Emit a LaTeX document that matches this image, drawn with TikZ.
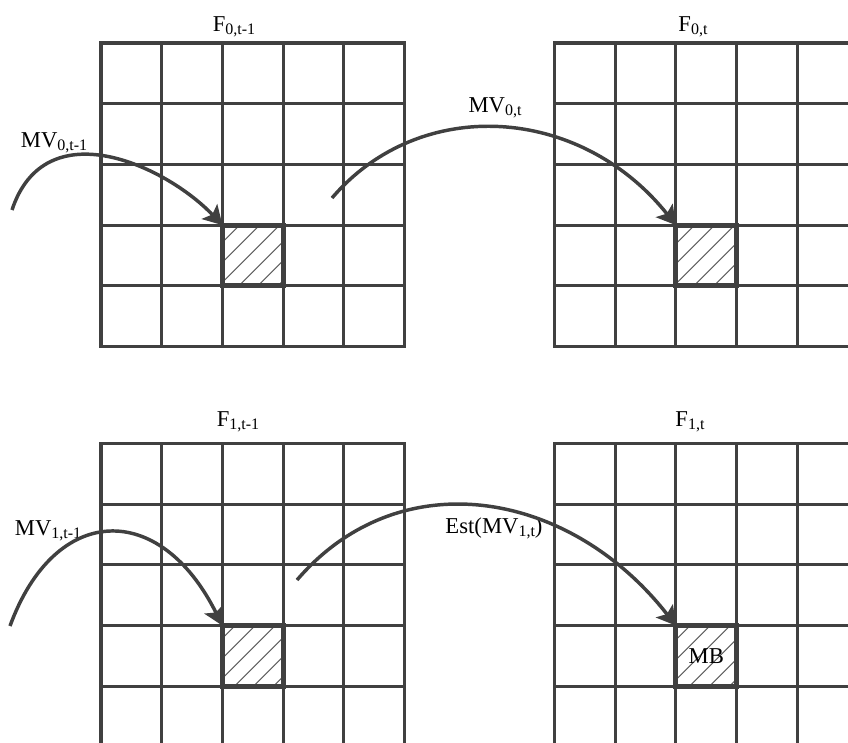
\documentclass[tikz,border=0pt]{standalone}
\usepackage{fontspec}
\setmainfont{Liberation Serif}
\usetikzlibrary{arrows.meta,patterns.meta}
\definecolor{inkgray}{HTML}{404040}
\newcommand{\mvSub}[1]{\raisebox{-2.6pt}{\fontsize{12}{12}\selectfont #1}}
\newcommand{\mvGrid}[2]{%
    \foreach \k in {0,...,5} {
        \draw[gridline] (#1+\k*60.7,#2) -- (#1+\k*60.7,#2+303.5);
        \draw[gridline] (#1,#2+\k*60.7) -- (#1+303.5,#2+\k*60.7);
    }
}
\newcommand{\mvBlock}[4]{%
    \node[hatchbox] (#3) at (#1+30.35,#2+30.35) {#4};
}

\begin{document}
\begin{tikzpicture}[x=0.75pt, y=-0.75pt,
    gridline/.style={inkgray, line width=2.3pt, line cap=rect},
    hatchbox/.style={draw=inkgray, line width=3.8pt, minimum size=45.5pt,
        inner sep=0pt, outer sep=0pt,
        pattern={Lines[angle=45,distance=10.5pt,line width=0.9pt]},
        pattern color=inkgray!80, font=\fontsize{17}{20}\selectfont},
    frametext/.style={anchor=base, inner sep=0pt, font=\fontsize{17}{20}\selectfont},
    mvarrow/.style={inkgray, line width=2.6pt,
        -{Stealth[length=14pt,width=16pt,inset=3pt]}}]
    \useasboundingbox (0,0) rectangle (848,742);
    \clip (0,0) rectangle (848,742);

    \mvGrid{101}{43}
    \mvGrid{554.5}{43}
    \mvGrid{101}{443.5}
    \mvGrid{554.5}{443.5}

    \mvBlock{222.4}{225.1}{blkA}{}
    \mvBlock{675.9}{225.1}{blkB}{}
    \mvBlock{222.4}{625.6}{blkC}{}
    \mvBlock{675.9}{625.6}{blkD}{MB}

    \node[frametext] (fA) at (234,31.5) {F\mvSub{0,t-1}};
    \node[frametext] (fB) at (693,31.5) {F\mvSub{0,t}};
    \node[frametext] (fC) at (238,426) {F\mvSub{1,t-1}};
    \node[frametext] (fD) at (690,426) {F\mvSub{1,t}};

    \node[frametext] (mvA) at (54,147) {MV\mvSub{0,t-1}};
    \node[frametext] (mvB) at (495,112) {MV\mvSub{0,t}};
    \node[frametext] (mvC) at (48,535) {MV\mvSub{1,t-1}};
    \node[frametext] (mvD) at (494,533) {Est(MV\mvSub{1,t})};

    \coordinate (sA) at (12,210);
    \coordinate (sB) at (332,198);
    \coordinate (sC) at (10,626);
    \coordinate (sD) at (297,580);

    \draw[mvarrow] (sA) .. controls (45,110) and (165,165) .. (blkA.north west);
    \draw[mvarrow] (sB) .. controls (420,95) and (580,105) .. (blkB.north west);
    \draw[mvarrow] (sC) .. controls (55,503) and (160,500) .. (blkC.north west);
    \draw[mvarrow] (sD) .. controls (400,460) and (570,490) .. (blkD.north west);
\end{tikzpicture}
\end{document}
